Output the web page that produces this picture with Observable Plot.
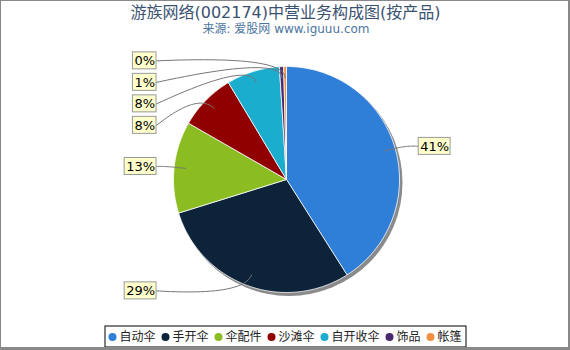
<!DOCTYPE html>
<html><head><meta charset="utf-8">
<script src="https://cdn.jsdelivr.net/npm/d3@7"></script>
<script src="https://cdn.jsdelivr.net/npm/@observablehq/plot@0.6"></script>
<style>
body{margin:0;background:#fff}
#chart{width:567px;height:346px;border-top:1px solid #888;border-left:1px solid #888;border-right:2px solid #888;border-bottom:3px solid #888;}
#chart svg{display:block}
</style></head><body><div id="chart"></div>
<script>
const categories = ["自动伞","手开伞","伞配件","沙滩伞","自开收伞","饰品","帐篷"];
const values = [41.0, 29.2, 13.1, 8.1, 7.6, 0.6, 0.4];
const colors = ["#2f7ed8","#0d233a","#8bbc21","#910000","#1aadce","#492970","#f28f43"];
const title = "游族网络(002174)中营业务构成图(按产品)";
const subtitle = "来源: 爱股网 www.iguuu.com";

const FONT = "'DejaVu Sans','Noto Sans CJK SC',sans-serif";
const cx = 286, cy = 179, R = 113;
const total = d3.sum(values);
const arcs = d3.pie().sort(null).value(d => d)(values);

// slice polygons
const slicePts = [];
arcs.forEach((p, i) => {
  const k = categories[i];
  const n = Math.max(2, Math.ceil((p.endAngle - p.startAngle) / (Math.PI / 180)));
  slicePts.push({k, x: cx, y: cy});
  for (let j = 0; j <= n; j++) {
    const a = p.startAngle + (p.endAngle - p.startAngle) * j / n;
    slicePts.push({k, x: cx + R * Math.sin(a), y: cy - R * Math.cos(a)});
  }
  slicePts.push({k, x: cx, y: cy});
});

// labels
const FS = 13;
const labels = arcs.map((p, i) => {
  const mid = (p.startAngle + p.endAngle) / 2;
  const text = Math.round(values[i] / total * 100) + "%";
  const digits = text.length - 1;
  const bw = digits * 0.636 * FS + 0.95 * FS + 3;
  return {
    k: categories[i], text, mid, bw,
    right: mid < Math.PI,
    y: cy - Math.cos(mid) * R * 1.05,
    px: cx + 0.9 * R * Math.sin(mid),
    py: cy - 0.9 * R * Math.cos(mid)
  };
});
// spread left-side labels
const left = labels.filter(d => !d.right).sort((a, b) => a.y - b.y);
let prev = -Infinity;
left.forEach((d, i) => {
  d.y = Math.max(d.y, i === 0 ? 59 : prev + 21.5);
  prev = d.y;
});
labels.forEach(d => {
  if (d.right) { d.x1 = cx + 1.17 * R; d.x2 = d.x1 + d.bw; d.ex = d.x1; }
  else { d.x2 = cx - 1.15 * R; d.x1 = d.x2 - d.bw; d.ex = d.x2; }
  d.tx = (d.x1 + d.x2) / 2;
  d.y1 = d.y - 8.5; d.y2 = d.y + 8.5;
});
// curved connectors (quadratic bezier)
const conn = [];
labels.forEach(d => {
  const L = 0.2 * R;
  const qx = d.px + L * Math.sin(d.mid), qy = d.py - L * Math.cos(d.mid);
  for (let j = 0; j <= 24; j++) {
    const t = j / 24, u = 1 - t;
    conn.push({k: d.k, x: u*u*d.ex + 2*u*t*qx + t*t*d.px, y: u*u*d.y + 2*u*t*qy + t*t*d.py});
  }
});

// legend
const legend = [];
let lx = 112;
categories.forEach(k => {
  legend.push({k, x: lx, tx: lx + 7, y: 336.5});
  lx += 17 + 12 * k.length;
});
const lastL = legend[legend.length - 1];
const legendBox = [{x1: legend[0].x - 7, x2: lastL.tx + 12 * lastL.k.length + 5, y1: 326, y2: 347}];

const chart = Plot.plot({
  width: 567, height: 346, margin: 0,
  style: {fontFamily: FONT, background: "#fff"},
  x: {domain: [1, 568], range: [0, 567], axis: null},
  y: {domain: [1, 347], range: [0, 346], axis: null},
  color: {domain: categories, range: colors},
  marks: [
    Plot.text([title], {x: () => 285, y: () => 12.5, text: d => d, fontSize: 16, fill: "#3a5270"}),
    Plot.text([subtitle], {x: () => 285.5, y: () => 28.5, text: d => d, fontSize: 12, fill: "#4d759e"}),
    Plot.dot([0], {x: () => cx + 2.5, y: () => cy + 3, r: R + 0.5, fill: "#8a8a8a"}),
    Plot.line(slicePts, {x: "x", y: "y", z: "k", fill: "k", stroke: "#fff", strokeWidth: 0.8, strokeLinejoin: "round"}),
    Plot.line(conn, {x: "x", y: "y", z: "k", stroke: "#777", strokeWidth: 1, curve: "linear"}),
    Plot.rect(labels, {x1: "x1", x2: "x2", y1: "y1", y2: "y2", fill: "#ffffcc", stroke: "#999", strokeWidth: 1}),
    Plot.text(labels, {x: "tx", y: "y", text: "text", fontSize: FS, fill: "#000"}),
    Plot.rect(legendBox, {x1: "x1", x2: "x2", y1: "y1", y2: "y2", fill: "#fff", stroke: "#000", strokeWidth: 1}),
    Plot.dot(legend, {x: "x", y: "y", r: 4, fill: "k"}),
    Plot.text(legend, {x: "tx", y: "y", text: "k", textAnchor: "start", fontSize: 12, fill: "#222"})
  ]
});
document.getElementById("chart").appendChild(chart);
</script>
</body></html>
